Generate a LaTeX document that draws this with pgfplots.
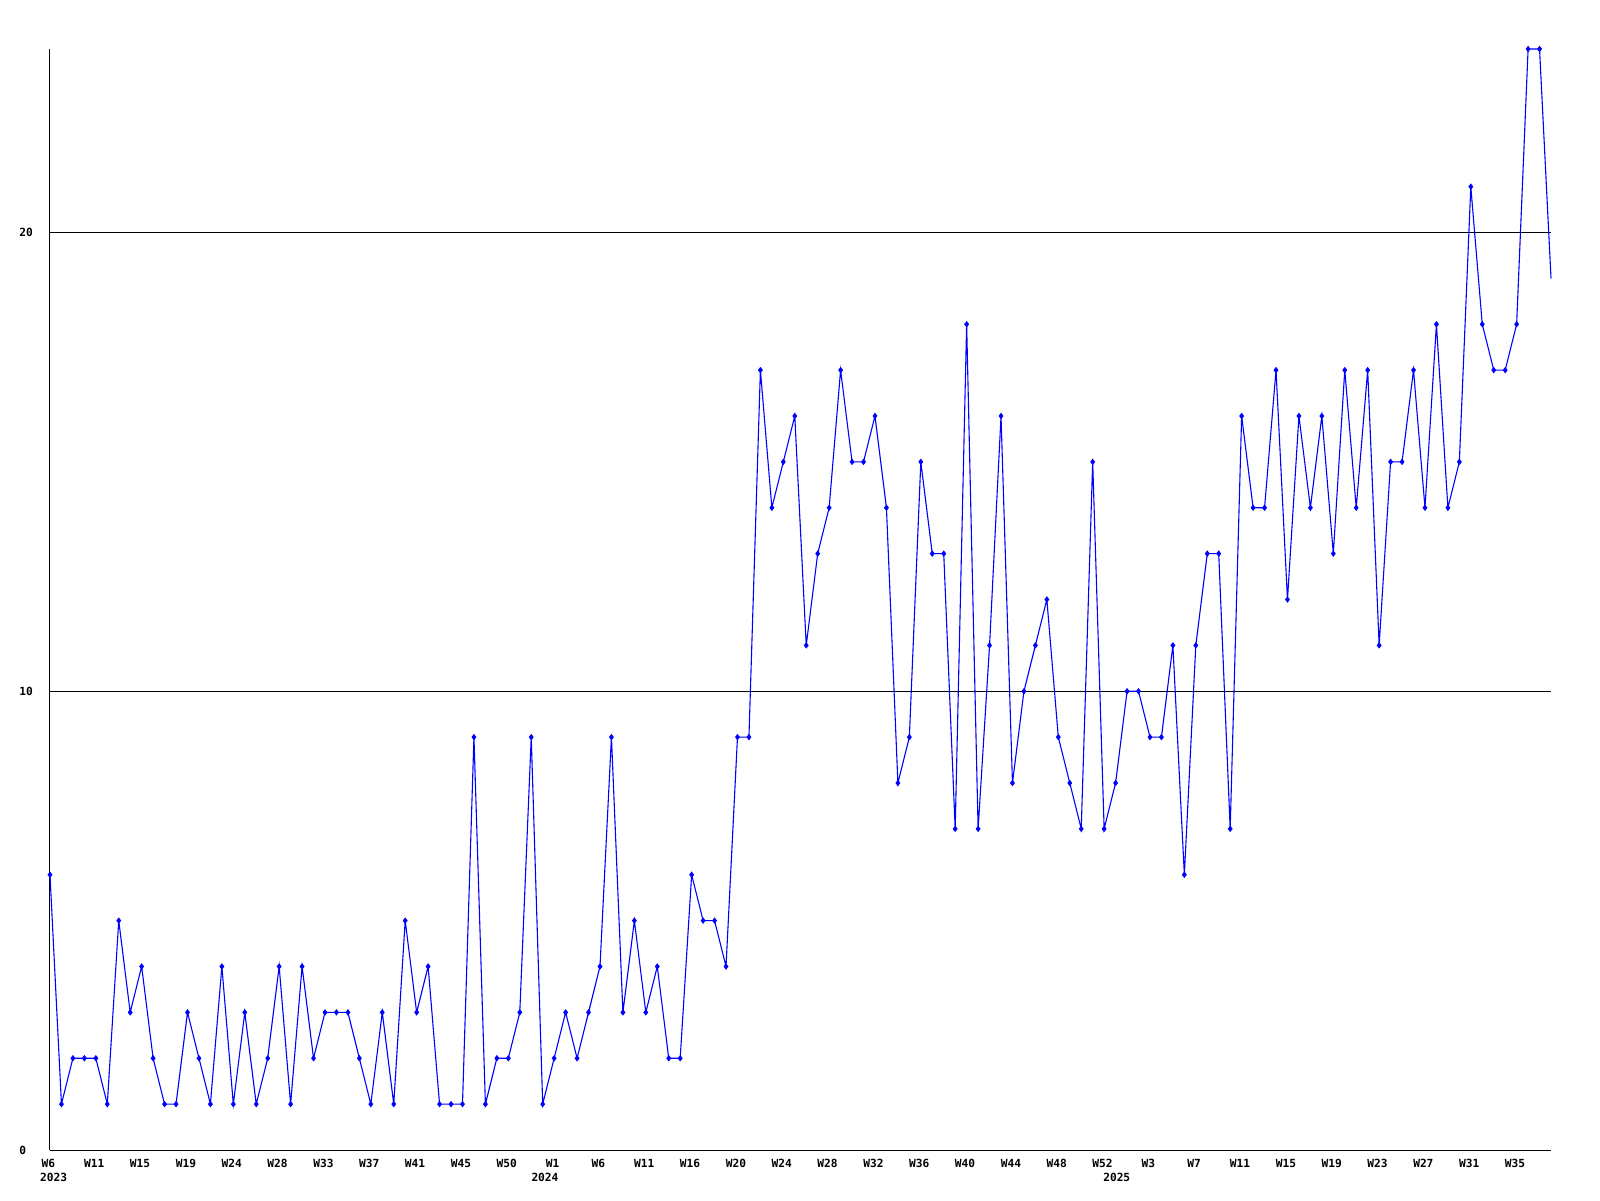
\documentclass[border=0pt]{standalone}
\usepackage{fontspec}
\setmainfont{DejaVu Sans Mono}
\usepackage{pgfplots}
\pgfplotsset{compat=1.18}
\usepackage{pgfplotstable}
\definecolor{lineblue}{RGB}{0,0,255}
\pgfplotstableread{
x y
0 6
1 1
2 2
3 2
4 2
5 1
6 5
7 3
8 4
9 2
10 1
11 1
12 3
13 2
14 1
15 4
16 1
17 3
18 1
19 2
20 4
21 1
22 4
23 2
24 3
25 3
26 3
27 2
28 1
29 3
30 1
31 5
32 3
33 4
34 1
35 1
36 1
37 9
38 1
39 2
40 2
41 3
42 9
43 1
44 2
45 3
46 2
47 3
48 4
49 9
50 3
51 5
52 3
53 4
54 2
55 2
56 6
57 5
58 5
59 4
60 9
61 9
62 17
63 14
64 15
65 16
66 11
67 13
68 14
69 17
70 15
71 15
72 16
73 14
74 8
75 9
76 15
77 13
78 13
79 7
80 18
81 7
82 11
83 16
84 8
85 10
86 11
87 12
88 9
89 8
90 7
91 15
92 7
93 8
94 10
95 10
96 9
97 9
98 11
99 6
100 11
101 13
102 13
103 7
104 16
105 14
106 14
107 17
108 12
109 16
110 14
111 16
112 13
113 17
114 14
115 17
116 11
117 15
118 15
119 17
120 14
121 18
122 14
123 15
124 21
125 18
126 17
127 17
128 18
129 24
130 24
131 19
}\datatable
\newcommand{\tickfont}{\bfseries\fontsize{5.6}{6}\selectfont}
\begin{document}
\begin{tikzpicture}
\begin{axis}[
  name=ax,
  scale only axis,
  width=750.5pt, height=550.5pt,
  xmin=0, xmax=131, ymin=0, ymax=24,
  clip=false,
  axis x line=bottom, axis y line=left,
  axis line style={-, black, line width=0.5pt},
  major tick length=0pt,
  /pgf/number format/assume math mode=true,
  xtick={0,4,...,128},
  xticklabels={W6,W11,W15,W19,W24,W28,W33,W37,W41,W45,W50,W1,W6,W11,W16,W20,W24,W28,W32,W36,W40,W44,W48,W52,W3,W7,W11,W15,W19,W23,W27,W31,W35},
  ytick={0,10,20},
  yticklabels={0,10,20},
  ymajorgrids,
  grid style={black, line width=0.5pt},
  xticklabel style={font=\tickfont, anchor=north, inner sep=0pt, yshift=-4.5pt, xshift=-0.8pt},
  yticklabel style={font=\tickfont, anchor=west, inner sep=0pt, xshift=-15.5pt},
]
\addplot[lineblue, line width=0.55pt, no marks] table[x=x,y=y] {\datatable};
\addplot[lineblue, only marks, mark=diamond*, mark size=1.3pt, skip coords between index={131}{132}] table[x=x,y=y] {\datatable};
\node[font=\tickfont, anchor=north, inner sep=0pt] at ([yshift=-11.5pt]axis cs:0.31,0) {2023};
\node[font=\tickfont, anchor=north, inner sep=0pt] at ([yshift=-11.5pt]axis cs:43.2,0) {2024};
\node[font=\tickfont, anchor=north, inner sep=0pt] at ([yshift=-11.5pt]axis cs:93.1,0) {2025};
\end{axis}
\pgfresetboundingbox
\path[use as bounding box] ([xshift=-25pt,yshift=-25pt]ax.south west) rectangle ([xshift=24.5pt,yshift=24.5pt]ax.north east);
\end{tikzpicture}
\end{document}
